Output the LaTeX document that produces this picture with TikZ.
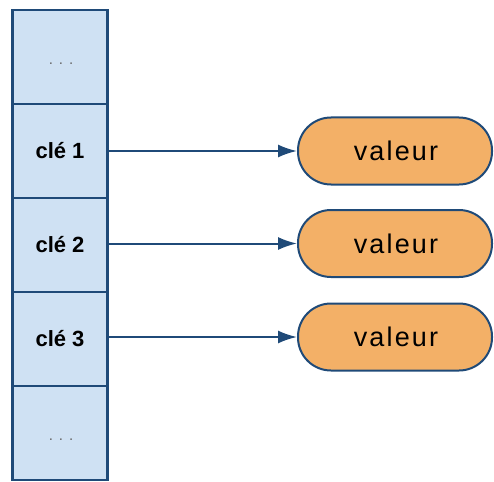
\documentclass[tikz,border=0pt]{standalone}
\usepackage{fontspec}
\setmainfont{Liberation Sans}
\newfontfamily\valfont[LetterSpace=8]{Liberation Sans}
\newfontfamily\dotfont[LetterSpace=40]{Liberation Sans}
\usetikzlibrary{arrows.meta}
\definecolor{edge}{HTML}{1F4A78}
\definecolor{cellfill}{HTML}{CFE1F3}
\definecolor{valfill}{HTML}{F3B067}
\begin{document}
\begin{tikzpicture}[x=1pt,y=-1pt,
  cell/.style={draw=edge,fill=cellfill,line width=2.6pt,minimum width=95.5pt,minimum height=94pt,inner sep=0pt,font=\fontsize{22}{23}\selectfont\bfseries},
  dots/.style={font=\dotfont\fontsize{15}{16}\selectfont,text=black!60},
  val/.style={draw=edge,fill=valfill,line width=2pt,minimum width=194pt,minimum height=67pt,rounded corners=33pt,inner sep=0pt,font=\valfont\fontsize{27}{28}\selectfont},
  link/.style={draw=edge,line width=2pt,-{Latex[length=19pt,width=13pt]}}]
\useasboundingbox (0,0) rectangle (494,481);
\node[cell] (c0) at (60,57) {};
\node[dots] at ([yshift=-7pt]c0.center) {\hspace*{2pt}...};
\node[cell] (c1) at (60,151) {clé 1};
\node[cell] (c2) at (60,245) {clé 2};
\node[cell] (c3) at (60,339) {clé 3};
\node[cell] (c4) at (60,433) {};
\node[dots] at ([yshift=-7pt]c4.center) {\hspace*{2pt}...};
\node[val] (v1) at (395,151) {\hspace*{2pt}valeur};
\node[val] (v2) at (395,243.5) {\hspace*{2pt}valeur};
\node[val] (v3) at (395,337) {\hspace*{2pt}valeur};
\draw[link] (c1.east) -- (v1.west);
\draw[link] (c2.east |- v2.west) -- (v2.west);
\draw[link] (c3.east |- v3.west) -- (v3.west);
\end{tikzpicture}
\end{document}
